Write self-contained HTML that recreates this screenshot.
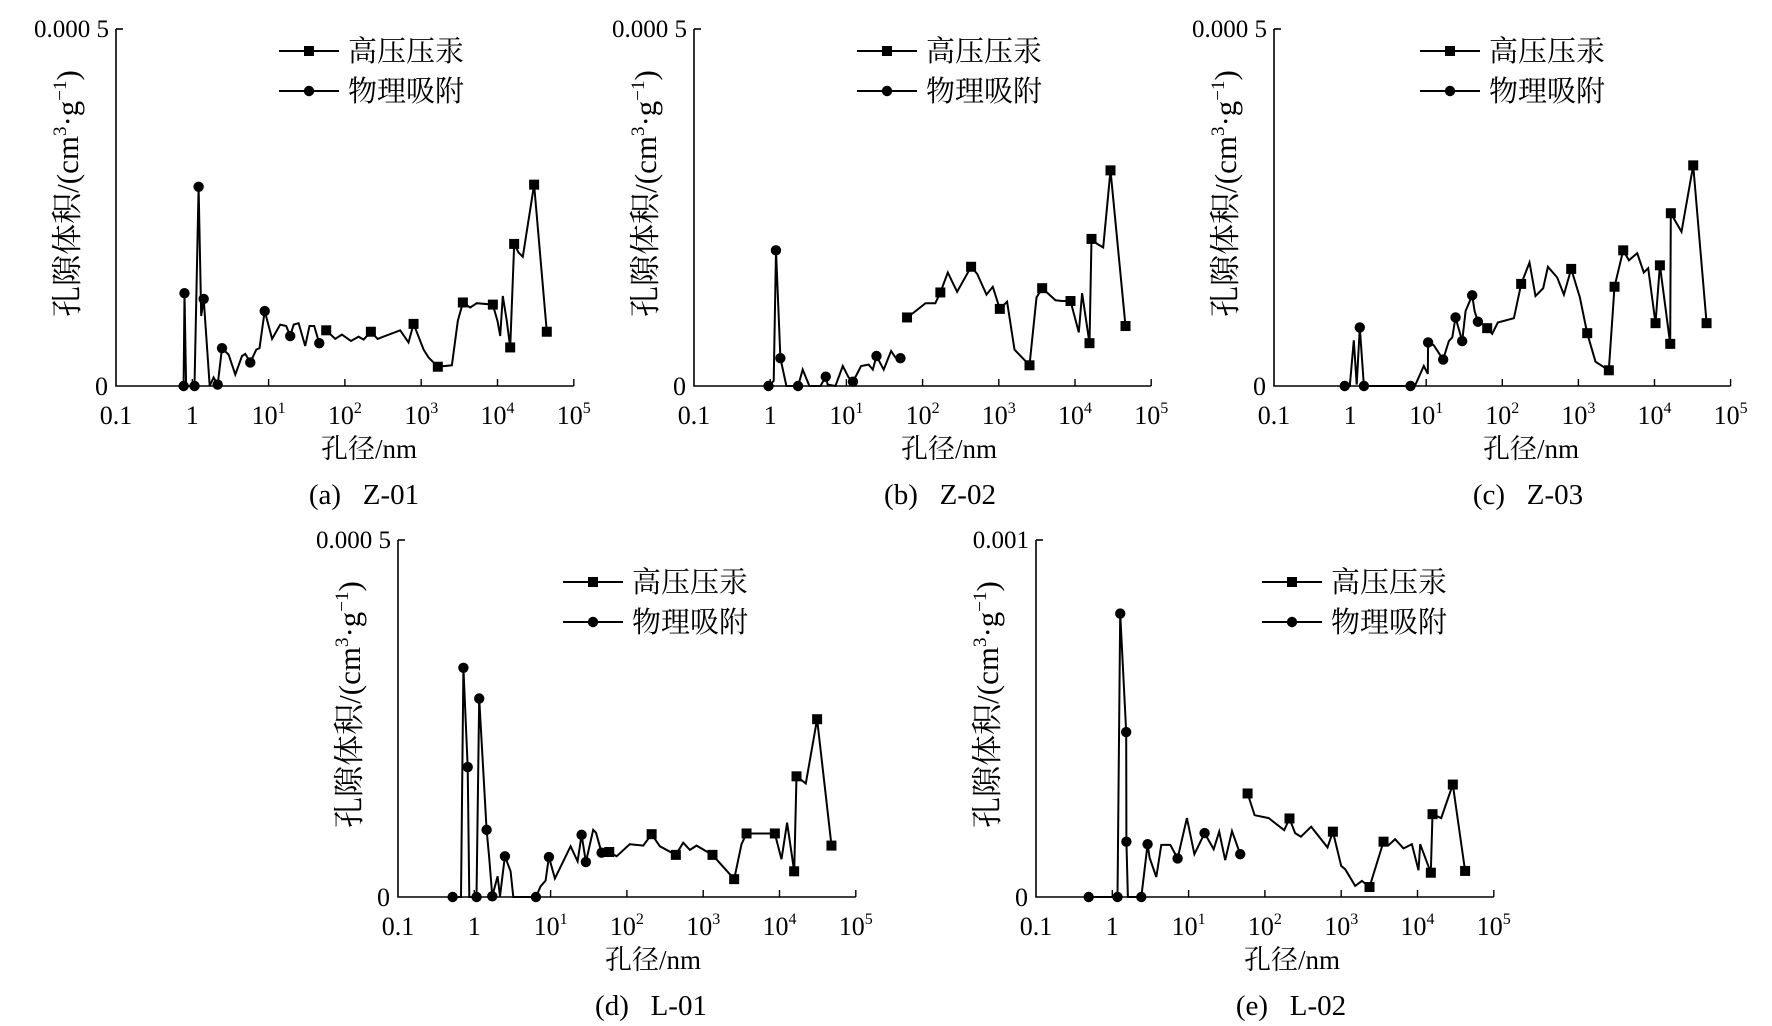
<!DOCTYPE html>
<html>
<head>
<meta charset="utf-8">
<style>
  html, body { margin:0; padding:0; background:#fff; }
  svg { display:block; font-family: "Liberation Serif", "Noto Serif CJK SC", "Noto Sans CJK SC", serif; }
  text { fill:#000; white-space: pre; }
</style>
</head>
<body>
<svg id="chart" width="1772" height="1026" viewBox="0 0 1772 1026" xmlns="http://www.w3.org/2000/svg" font-family="Liberation Serif, Noto Serif CJK SC, serif"></svg>
<script>
// ---------- data (pore diameter in nm, pore volume in 1e-4 cm3/g) ----------
const aPhysX = [0.77,0.79,0.83,1.07,1.21,1.31,1.41,1.69,1.90,2.15,2.45,2.99,3.66,4.48,4.95,5.75,6.9,7.6,8.9,11.1,14.2,17.0,19.2,21.3,24.7,30.2,34.4,39.6,46.1];
const aPhysY = [0,1.30,0,0,2.79,0.98,1.22,0,0.12,0.02,0.53,0.44,0.16,0.42,0.45,0.33,0.51,0.53,1.05,0.66,0.86,0.84,0.70,0.86,0.88,0.56,0.84,0.84,0.60];
const aPhysM = [1,1,0,1,1,0,1,0,0,1,1,0,0,0,0,1,0,0,1,0,0,0,1,0,0,0,0,0,1];
const aHgX = [56.9,74.7,91.4,120,151,176,219,268,531,682,794,1074,1248,1652,2523,3020,3516,4385,5358,8690,10000,10840,11750,13250,14660,16530,18840,21470,30200,44260];
const aHgY = [0.78,0.66,0.72,0.63,0.69,0.65,0.76,0.66,0.78,0.61,0.87,0.51,0.40,0.27,0.29,0.91,1.17,1.10,1.16,1.14,0.91,0.70,1.26,0.91,0.54,1.99,1.87,1.81,2.82,0.76];
const aHgM = [1,0,0,0,0,0,1,0,0,0,1,0,0,1,0,0,1,0,0,1,0,0,0,0,1,1,0,0,1,1];

const bPhysX = [0.95,1.11,1.19,1.36,1.63,2.32,2.67,3.27,4.56,5.36,5.69,7.18,8.96,10.7,12.2,15.6,19.6,22.2,24.8,30.9,38.6,44.0,51.2];
const bPhysY = [0,0.07,1.90,0.39,0,0,0.23,0,0,0.13,0.02,0,0.28,0.12,0.06,0.28,0.30,0.23,0.42,0.23,0.49,0.40,0.39];
const bPhysM = [1,0,1,1,0,1,0,0,0,1,0,0,0,0,1,0,0,0,1,0,0,0,1];
const bHgX = [62.5,76.6,109,147,171,214,284,433,520,689,834,1031,1286,1607,2529,3126,3707,5546,6780,8730,11220,12410,15490,16470,19540,23440,29240,46030];
const bHgY = [0.96,1.03,1.16,1.16,1.31,1.59,1.32,1.67,1.57,1.28,1.39,1.08,1.18,0.51,0.29,1.24,1.37,1.20,1.19,1.19,0.75,1.30,0.60,2.06,1.99,1.94,3.02,0.84];
const bHgM = [1,0,0,0,1,0,0,1,0,0,0,1,0,0,1,0,1,0,0,1,0,0,1,1,0,0,1,1];

const cPhysX = [0.85,0.99,1.12,1.22,1.34,1.52,6.22,7.24,9.31,10.5,10.6,12.6,16.7,19.9,22.0,24.3,29.7,32.9,40.2,43.2,47.8];
const cPhysY = [0,0,0.64,0.02,0.82,0,0,0.02,0.28,0.17,0.61,0.57,0.37,0.63,0.68,0.96,0.63,1.05,1.27,1.05,0.90];
const cPhysM = [1,0,0,0,1,1,1,0,0,0,1,0,1,0,0,1,1,0,1,0,1];
const cHgX = [63.3,73.7,87.4,142,177,228,273,345,397,526,644,804,1045,1306,1679,2512,2985,3881,4603,5929,7244,8260,10320,11770,16100,16400,22650,32280,48310];
const cHgY = [0.81,0.73,0.89,0.95,1.43,1.73,1.26,1.37,1.67,1.52,1.28,1.64,1.24,0.74,0.34,0.22,1.39,1.90,1.76,1.86,1.59,1.65,0.88,1.69,0.59,2.42,2.16,3.09,0.88];
const cHgM = [1,0,0,0,1,0,0,0,0,0,0,1,0,1,0,1,1,1,0,0,0,0,1,1,1,1,0,1,1];

const dPhysX = [0.52,0.67,0.72,0.82,0.86,1.07,1.16,1.45,1.57,1.72,2.02,2.17,2.52,2.99,3.24,6.43,7.40,8.59,9.51,11.4,18.3,22.6,25.5,29.0,36.2,39.3,46.6];
const dPhysY = [0,0,3.21,1.82,0,0,2.78,0.94,0.55,0.01,0.29,0.01,0.57,0.36,0,0,0.15,0.23,0.56,0.26,0.71,0.50,0.87,0.49,0.94,0.90,0.62];
const dPhysM = [1,0,1,1,0,1,1,1,0,1,0,0,1,0,0,1,0,0,1,0,0,0,1,1,0,0,1];
const dHgX = [58.7,73.3,109,164,211,271,438,547,669,818,1324,2546,3177,3698,8690,10620,12590,15560,16710,22130,31120,47970];
const dHgY = [0.63,0.57,0.74,0.72,0.88,0.71,0.59,0.76,0.66,0.72,0.59,0.25,0.74,0.89,0.89,0.53,1.04,0.36,1.69,1.59,2.49,0.72];
const dHgM = [1,0,0,0,1,0,1,0,0,0,1,1,0,1,1,0,0,1,1,0,1,1];

const ePhysX = [0.49,1.17,1.27,1.52,1.53,1.60,2.40,2.90,3.08,3.77,4.39,5.75,7.18,9.51,11.9,16.2,21.3,25.2,30.2,37.0,47.5];
const ePhysY = [0,0,7.94,4.62,1.55,0,0,1.48,1.10,0.56,1.46,1.46,1.08,2.21,1.20,1.79,1.34,1.83,1.03,1.85,1.20];
const ePhysM = [1,1,1,1,1,0,1,1,0,0,0,0,1,0,0,1,0,0,0,0,1];
const eHgX = [59.3,73.3,112,179,210,249,296,405,662,778,1000,1127,1524,1866,2350,3589,4169,5093,6561,8433,10310,10840,14960,15740,20420,29040,42070];
const eHgY = [2.90,2.29,2.21,1.87,2.20,1.79,1.69,1.97,1.39,1.83,0.87,0.78,0.31,0.45,0.28,1.55,1.45,1.62,1.36,1.48,0.75,1.48,0.68,2.32,2.21,3.15,0.73];
const eHgM = [1,0,0,0,1,0,0,0,0,1,0,0,0,0,1,1,0,0,0,0,0,0,1,1,0,1,1];

const xTickExp = [-1,0,1,2,3,4,5];
const yTopLabels = ["0.000 5","0.000 5","0.000 5","0.000 5","0.001"];
const yMaxValues = [5,5,5,5,10];
const captions = ["(a)   Z-01","(b)   Z-02","(c)   Z-03","(d)   L-01","(e)   L-02"];
const legendLabels = ["高压压汞","物理吸附"];

// ---------- layout ----------
const NS = "http://www.w3.org/2000/svg";
const svg = document.getElementById("chart");
const panels = [
  {key:"a", x0:116, dec:76.3, top:29, base:386, legX:279, legY:51, titleX:369, capX:364},
  {key:"b", x0:694, dec:76.2, top:29, base:386, legX:857, legY:51, titleX:949, capX:940},
  {key:"c", x0:1274, dec:76.1, top:29, base:386, legX:1420, legY:51, titleX:1531, capX:1528},
  {key:"d", x0:398, dec:76.3, top:540, base:897, legX:563, legY:582, titleX:653, capX:651},
  {key:"e", x0:1036, dec:76.3, top:540, base:897, legX:1262, legY:582, titleX:1292, capX:1291}
];
const series = {
  a:{px:aPhysX,py:aPhysY,pm:aPhysM,hx:aHgX,hy:aHgY,hm:aHgM},
  b:{px:bPhysX,py:bPhysY,pm:bPhysM,hx:bHgX,hy:bHgY,hm:bHgM},
  c:{px:cPhysX,py:cPhysY,pm:cPhysM,hx:cHgX,hy:cHgY,hm:cHgM},
  d:{px:dPhysX,py:dPhysY,pm:dPhysM,hx:dHgX,hy:dHgY,hm:dHgM},
  e:{px:ePhysX,py:ePhysY,pm:ePhysM,hx:eHgX,hy:eHgY,hm:eHgM}
};

function mk(tag, attrs, parent) {
  const el = document.createElementNS(NS, tag);
  for (const k in attrs) el.setAttribute(k, attrs[k]);
  (parent || svg).appendChild(el);
  return el;
}

panels.forEach((p, i) => {
  const s = series[p.key];
  const ymax = yMaxValues[i];
  const xs = v => p.x0 + (Math.log10(v) + 1) * p.dec;
  const ys = v => p.base - (v / ymax) * (p.base - p.top);
  const xEnd = p.x0 + 6 * p.dec;

  const g = mk("g", {});
  
  

  const ax = mk("path", {d:`M${p.x0},${p.top} V${p.base} H${xEnd}`, fill:"none", stroke:"#000", "stroke-width":1.6}, g);
  
  
  const yt = mk("line", {x1:p.x0, y1:p.top, x2:p.x0+7, y2:p.top, stroke:"#000", "stroke-width":1.6}, g);
  
  

  const yl0 = mk("text", {x:p.x0-8, y:p.base+9, "text-anchor":"end", "font-size":26}, g);
  yl0.textContent = "0";
  
  
  const yl1 = mk("text", {x:p.x0-7, y:p.top+8, "text-anchor":"end", "font-size":25}, g);
  yl1.textContent = yTopLabels[i];
  
  

  xTickExp.forEach(e => {
    const x = xs(Math.pow(10, e));
    if (e > -1) {
      const t = mk("line", {x1:x, y1:p.base, x2:x, y2:p.base-7, stroke:"#000", "stroke-width":1.4}, g);
      
      
    }
    const lab = mk("text", {x:x, y:p.base+38, "text-anchor":"middle", "font-size":26}, g);
    
    
    if (e === -1) lab.textContent = "0.1";
    else if (e === 0) lab.textContent = "1";
    else {
      const t1 = mk("tspan", {}, lab); t1.textContent = "10";
      const t2 = mk("tspan", {dy:-11, "font-size":16}, lab); t2.textContent = String(e);
    }
  });

  const xt = mk("text", {x:p.titleX, y:p.base+72, "text-anchor":"middle", "font-size":27}, g);
  xt.textContent = "孔径/nm";
  
  
  const cy = (p.top + p.base) / 2 - 14;
  const cx = p.x0 - 38;
  const ytl = mk("text", {x:cx, y:cy, "text-anchor":"middle", "font-size":31, transform:`rotate(-90 ${cx} ${cy})`}, g);
  
  
  const y1 = mk("tspan", {}, ytl); y1.textContent = "孔隙体积/(cm";
  const y2 = mk("tspan", {dy:-12, "font-size":19}, ytl); y2.textContent = "3";
  const y3 = mk("tspan", {dy:12}, ytl); y3.textContent = "·g";
  const y4 = mk("tspan", {dy:-12, "font-size":19}, ytl); y4.textContent = "−1";
  const y5 = mk("tspan", {dy:12}, ytl); y5.textContent = ")";

  const cap = mk("text", {x:p.capX, y:p.base+118, "text-anchor":"middle", "font-size":29}, g);
  cap.textContent = captions[i];
  
  

  function drawSeries(X, Y, M, kind) {
    const pts = X.map((v, k) => xs(v).toFixed(1) + "," + ys(Y[k]).toFixed(1)).join(" ");
    const pl = mk("polyline", {points:pts, fill:"none", stroke:"#000", "stroke-width":2, "stroke-linejoin":"miter"}, g);
    
    
    X.forEach((v, k) => {
      if (!M[k]) return;
      const x = xs(v), y = ys(Y[k]);
      let m;
      if (kind === "sq") m = mk("rect", {x:x-5, y:y-5, width:10, height:10, fill:"#000"}, g);
      else m = mk("circle", {cx:x, cy:y, r:5.2, fill:"#000"}, g);
      
      
    });
  }
  drawSeries(s.px, s.py, s.pm, "ci");
  drawSeries(s.hx, s.hy, s.hm, "sq");

  [0, 1].forEach(r => {
    const ly = p.legY + r * 40;
    const lg = mk("g", {}, g);
    
    
    mk("line", {x1:p.legX, y1:ly, x2:p.legX+60, y2:ly, stroke:"#000", "stroke-width":2}, lg);
    if (r === 0) mk("rect", {x:p.legX+25, y:ly-5, width:10, height:10, fill:"#000"}, lg);
    else mk("circle", {cx:p.legX+30, cy:ly, r:5.2, fill:"#000"}, lg);
    const lt = mk("text", {x:p.legX+69, y:ly+10, "font-size":29}, lg);
    lt.textContent = legendLabels[r];
  });
});
</script>
</body>
</html>
